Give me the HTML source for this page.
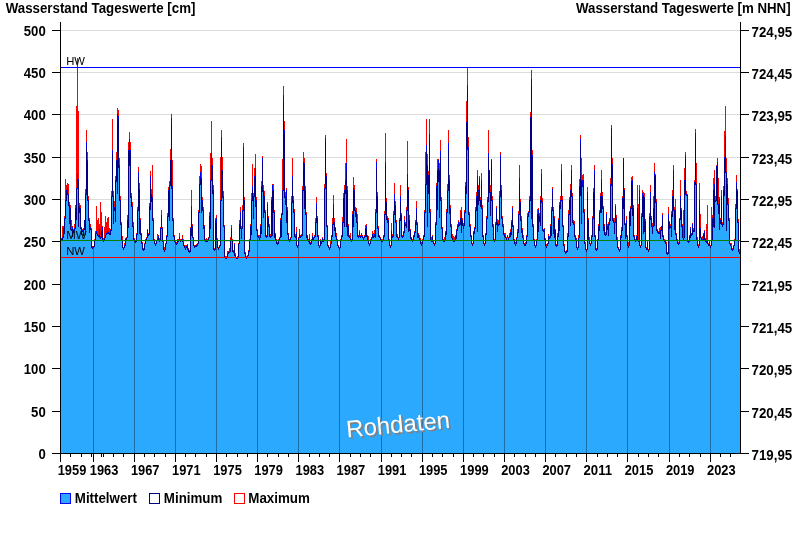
<!DOCTYPE html>
<html lang="de"><head><meta charset="utf-8"><title>Wasserstand Tageswerte</title>
<style>
html,body{margin:0;padding:0;background:#fff;}
svg{display:block;font-family:"Liberation Sans",Arial,sans-serif;}
.b{font-weight:bold;font-size:14px;fill:#000;}
.s{font-size:11.4px;fill:#000;}
</style></head><body>
<svg width="800" height="550" viewBox="0 0 800 550">
<rect width="800" height="550" fill="#fff"/>
<path d="M61,411.5H740M61,368.5H740M61,326.5H740M61,284.5H740M61,241.5H740M61,199.5H740M61,157.5H740M61,114.5H740M61,72.5H740M61,30.5H740" stroke="#dcdcdc" stroke-width="1" fill="none" shape-rendering="crispEdges"/>
<g shape-rendering="crispEdges" fill="none" stroke-width="1">
<path d="M60,453V239H61V239H62V237H63V228H64V218H65V200H66V190H67V187H68V194H69V205H70V208H71V229H72V227H73V230H74V228H75V208H76V188H77V173H78V179H79V206H80V208H81V228H82V230H83V229H84V220H85V194H86V142H87V160H88V200H89V220H90V227H91V229H92V247H93V246H94V240H95V233H96V231H97V234H98V235H99V229H100V237H101V231H102V227H103V240H104V238H105V235H106V233H107V231H108V232H109V233H110V230H111V196H112V150H113V196H114V207H115V180H116V160H117V114H118V116H119V165H120V200H121V224H122V240H123V248H124V245H125V239H126V238H127V220H128V150H129V139H130V150H131V196H132V206H133V226H134V239H135V241H136V234H137V210H138V172H139V189H140V220H141V234H142V243H143V249H144V244H145V240H146V238H147V230H148V234H149V206H150V176H151V194H152V197H153V220H154V240H155V244H156V241H157V239H158V236H159V240H160V228H161V215H162V228H163V242H164V250H165V244H166V236H167V216H168V190H169V185H170V160H171V118H172V186H173V220H174V236H175V242H176V243H177V241H178V240H179V237H180V240H181V239H182V239H183V242H184V246H185V248H186V246H187V245H188V249H189V251H190V228H191V206H192V226H193V238H194V246H195V245H196V245H197V244H198V212H199V184H200V172H201V178H202V200H203V210H204V226H205V240H206V240H207V240H208V238H209V216H210V180H211V153H212V165H213V190H214V249H215V220H216V218H217V240H218V248H219V246H220V200H221V137H222V170H223V196H224V226H225V257H226V257H227V253H228V252H229V251H230V240H231V228H232V240H233V251H234V244H235V255H236V258H237V257H238V244H239V224H240V212H241V228H242V210H243V147H244V200H245V253H246V257H247V256H248V251H249V240H250V226H251V200H252V186H253V196H254V176H255V168H256V200H257V230H258V236H259V238H260V226H261V186H262V158H263V190H264V196H265V212H266V236H267V204H268V218H269V226H270V236H271V200H272V185H273V190H274V212H275V234H276V240H277V243H278V240H279V238H280V220H281V214H282V190H283V95H284V130H285V196H286V190H287V210H288V234H289V240H290V238H291V202H292V176H293V200H294V212H295V236H296V232H297V246H298V238H299V234H300V236H301V235H302V190H303V162H304V163H305V190H306V214H307V236H308V240H309V238H310V243H311V240H312V236H313V238H314V236H315V222H316V203H317V218H318V236H319V246H320V240H321V242H322V238H323V240H324V188H325V138H326V176H327V226H328V246H329V248H330V244H331V236H332V224H333V204H334V222H335V228H336V236H337V240H338V246H339V248H340V240H341V236H342V222H343V198H344V190H345V180H346V163H347V190H348V226H349V236H350V238H351V240H352V214H353V188H354V190H355V210H356V212H357V222H358V236H359V232H360V236H361V234H362V236H363V238H364V236H365V228H366V226H367V236H368V240H369V244H370V240H371V238H372V234H373V236H374V234H375V212H376V162H377V196H378V228H379V236H380V238H381V240H382V240H383V236H384V214H385V162H386V202H387V218H388V220H389V240H390V246H391V230H392V236H393V214H394V194H395V205H396V222H397V236H398V238H399V220H400V196H401V215H402V236H403V232H404V220H405V224H406V210H407V174H408V190H409V220H410V230H411V238H412V240H413V236H414V232H415V222H416V208H417V224H418V234H419V238H420V240H421V244H422V240H423V236H424V212H425V184H426V145H427V165H428V175H429V134H430V212H431V240H432V236H433V242H434V244H435V224H436V186H437V170H438V160H439V170H440V151H441V200H442V228H443V240H444V240H445V232H446V212H447V190H448V143H449V180H450V208H451V226H452V238H453V240H454V240H455V236H456V230H457V226H458V222H459V224H460V218H461V212H462V220H463V225H464V212H465V186H466V122H467V85H468V147H469V214H470V226H471V236H472V244H473V232H474V228H475V210H476V196H477V176H478V190H479V178H480V200H481V180H482V208H483V236H484V244H485V234H486V218H487V200H488V153H489V170H490V192H491V160H492V200H493V226H494V240H495V224H496V208H497V222H498V224H499V196H500V155H501V190H502V218H503V226H504V234H505V236H506V238H507V236H508V238H509V236H510V232H511V222H512V208H513V226H514V240H515V244H516V238H517V232H518V214H519V178H520V202H521V220H522V230H523V238H524V244H525V244H526V236H527V216H528V212H529V200H530V117H531V79H532V155H533V226H534V240H535V246H536V240H537V214H538V210H539V216H540V200H541V174H542V202H543V230H544V229H545V239H546V246H547V244H548V236H549V237H550V226H551V210H552V189H553V210H554V218H555V230H556V245H557V236H558V220H559V205H560V200H561V170H562V200H563V226H564V246H565V252H566V251H567V236H568V214H569V200H570V190H571V170H572V196H573V222H574V224H575V236H576V239H577V248H578V238H579V186H580V139H581V180H582V180H583V180H584V212H585V244H586V250H587V192H588V220H589V240H590V244H591V236H592V218H593V192H594V170H595V236H596V249H597V240H598V226H599V212H600V196H601V179H602V196H603V208H604V226H605V234H606V214H607V226H608V224H609V220H610V184H611V128H612V164H613V220H614V222H615V206H616V218H617V240H618V248H619V250H620V236H621V230H622V198H623V158H624V190H625V224H626V220H627V236H628V246H629V212H630V208H631V181H632V180H633V208H634V236H635V240H636V236H637V208H638V240H639V190H640V246H641V216H642V193H643V195H644V197H645V221H646V248H647V242H648V250H649V216H650V192H651V218H652V226H653V208H654V172H655V175H656V202H657V230H658V232H659V232H660V230H661V226H662V215H663V236H664V240H665V241H666V244H667V253H668V214H669V222H670V226H671V214H672V196H673V170H674V210H675V210H676V234H677V240H678V243H679V219H680V196H681V210H682V226H683V238H684V180H685V155H686V194H687V195H688V241H689V236H690V228H691V234H692V224H693V230H694V182H695V133H696V184H697V240H698V246H699V200H700V228H701V238H702V239H703V234H704V231H705V239H706V241H707V240H708V244H709V242H710V246H711V240H712V218H713V190H714V184H715V200H716V166H717V162H718V204H719V199H720V220H721V196H722V224H723V190H724V157H725V136H726V172H727V184H728V204H729V220H730V244H731V246H732V249H733V246H734V240H735V208H736V182H737V191H738V222H739V252H740V453Z" fill="#2aa9ff" stroke="none"/>
<path d="M60.5,238V239M61.5,238V239M62.5,226V237M63.5,226V228M64.5,216V218M65.5,179V200M66.5,185V190M67.5,183V187M68.5,184V194M69.5,202V205M70.5,205V208M71.5,220V229M72.5,226V227M73.5,229V230M74.5,224V228M75.5,205V208M76.5,106V188M77.5,58V173M78.5,111V179M79.5,203V206M80.5,205V208M81.5,227V228M82.5,229V230M83.5,228V229M85.5,189V194M86.5,130V142M87.5,152V160M88.5,196V200M89.5,218V220M90.5,224V227M91.5,228V229M92.5,246V247M94.5,239V240M95.5,231V233M96.5,206V231M97.5,220V234M98.5,218V235M99.5,224V229M100.5,202V237M101.5,212V231M102.5,226V227M103.5,238V240M104.5,227V238M105.5,216V235M106.5,222V233M107.5,218V231M108.5,217V232M109.5,228V233M110.5,229V230M111.5,191V196M112.5,119V150M113.5,191V196M114.5,201V207M115.5,176V180M116.5,152V160M117.5,108V114M118.5,110V116M119.5,158V165M120.5,196V200M121.5,222V224M122.5,236V240M123.5,247V248M124.5,243V245M125.5,238V239M126.5,237V238M127.5,215V220M128.5,142V150M129.5,132V139M130.5,142V150M131.5,193V196M132.5,202V206M133.5,222V226M134.5,238V239M135.5,240V241M136.5,233V234M137.5,207V210M138.5,167V172M139.5,183V189M140.5,218V220M141.5,233V234M142.5,242V243M143.5,248V249M144.5,243V244M145.5,239V240M146.5,237V238M147.5,229V230M148.5,233V234M149.5,203V206M150.5,171V176M151.5,189V194M152.5,165V197M153.5,218V220M154.5,239V240M155.5,243V244M156.5,240V241M157.5,234V239M158.5,235V236M159.5,238V240M160.5,227V228M161.5,210V215M162.5,227V228M163.5,241V242M164.5,247V250M165.5,243V244M166.5,235V236M167.5,213V216M168.5,187V190M169.5,181V185M170.5,149V160M171.5,114V118M172.5,160V186M173.5,218V220M174.5,235V236M175.5,241V242M176.5,242V243M177.5,239V241M178.5,239V240M179.5,233V237M180.5,239V240M182.5,235V239M183.5,239V242M184.5,245V246M185.5,245V248M186.5,245V246M187.5,244V245M188.5,248V249M189.5,250V251M190.5,227V228M191.5,190V206M192.5,224V226M193.5,237V238M194.5,245V246M196.5,244V245M197.5,243V244M198.5,210V212M199.5,176V184M200.5,164V172M201.5,166V178M202.5,197V200M203.5,207V210M204.5,225V226M205.5,239V240M206.5,238V240M207.5,239V240M208.5,237V238M209.5,212V216M210.5,153V180M211.5,121V153M212.5,158V165M213.5,185V190M214.5,248V249M215.5,218V220M216.5,215V218M217.5,238V240M218.5,247V248M219.5,245V246M220.5,157V200M221.5,130V137M222.5,157V170M223.5,191V196M224.5,225V226M225.5,256V257M226.5,256V257M227.5,251V253M228.5,251V252M229.5,248V251M230.5,237V240M231.5,225V228M232.5,239V240M233.5,250V251M234.5,243V244M235.5,253V255M236.5,257V258M237.5,256V257M238.5,243V244M239.5,220V224M240.5,207V212M241.5,226V228M242.5,205V210M243.5,143V147M244.5,197V200M245.5,252V253M246.5,256V257M247.5,255V256M248.5,250V251M249.5,239V240M250.5,224V226M251.5,193V200M252.5,164V186M253.5,193V196M254.5,168V176M255.5,154V168M256.5,197V200M257.5,229V230M258.5,235V236M259.5,235V238M260.5,224V226M261.5,181V186M262.5,156V158M263.5,185V190M264.5,191V196M265.5,210V212M266.5,235V236M267.5,202V204M268.5,216V218M269.5,224V226M270.5,234V236M271.5,197V200M272.5,184V185M273.5,184V190M274.5,210V212M275.5,233V234M276.5,239V240M277.5,242V243M278.5,239V240M279.5,237V238M280.5,218V220M281.5,213V214M282.5,159V190M283.5,86V95M284.5,121V130M285.5,192V196M286.5,188V190M287.5,207V210M288.5,233V234M289.5,239V240M290.5,237V238M291.5,196V202M292.5,158V176M293.5,196V200M294.5,209V212M295.5,234V236M296.5,227V232M297.5,245V246M298.5,237V238M299.5,229V234M300.5,235V236M301.5,234V235M302.5,186V190M303.5,152V162M304.5,158V163M305.5,186V190M306.5,212V214M307.5,235V236M308.5,239V240M309.5,234V238M310.5,242V243M311.5,239V240M312.5,233V236M313.5,237V238M314.5,235V236M315.5,218V222M316.5,197V203M317.5,216V218M318.5,235V236M319.5,245V246M320.5,239V240M321.5,241V242M322.5,237V238M323.5,239V240M324.5,184V188M325.5,135V138M326.5,173V176M327.5,225V226M328.5,245V246M329.5,247V248M330.5,240V244M331.5,235V236M332.5,218V224M333.5,195V204M334.5,218V222M335.5,227V228M336.5,233V236M337.5,239V240M338.5,245V246M339.5,247V248M340.5,239V240M341.5,235V236M342.5,217V222M343.5,193V198M344.5,185V190M345.5,163V180M346.5,139V163M347.5,186V190M348.5,224V226M349.5,235V236M350.5,233V238M351.5,239V240M352.5,211V214M353.5,177V188M354.5,185V190M355.5,207V210M356.5,208V212M357.5,214V222M358.5,235V236M359.5,230V232M360.5,235V236M361.5,233V234M362.5,235V236M363.5,237V238M364.5,235V236M365.5,225V228M366.5,224V226M367.5,235V236M368.5,236V240M369.5,243V244M370.5,239V240M371.5,237V238M372.5,231V234M373.5,233V236M374.5,230V234M375.5,209V212M376.5,159V162M377.5,192V196M378.5,226V228M379.5,235V236M380.5,237V238M381.5,239V240M382.5,239V240M383.5,235V236M384.5,211V214M385.5,133V162M386.5,198V202M387.5,216V218M388.5,218V220M389.5,239V240M390.5,245V246M391.5,223V230M392.5,234V236M393.5,211V214M394.5,183V194M395.5,201V205M396.5,220V222M397.5,234V236M398.5,237V238M399.5,218V220M400.5,185V196M401.5,213V215M402.5,235V236M403.5,231V232M404.5,216V220M405.5,222V224M406.5,207V210M407.5,141V174M408.5,187V190M409.5,215V220M410.5,229V230M411.5,237V238M412.5,239V240M413.5,235V236M414.5,231V232M415.5,220V222M416.5,201V208M417.5,222V224M418.5,233V234M419.5,235V238M420.5,238V240M421.5,242V244M422.5,239V240M423.5,235V236M424.5,210V212M425.5,152V184M426.5,119V145M427.5,154V165M428.5,171V175M429.5,119V134M430.5,209V212M431.5,237V240M432.5,235V236M433.5,241V242M434.5,243V244M435.5,222V224M436.5,183V186M437.5,159V170M438.5,159V160M439.5,163V170M440.5,140V151M441.5,197V200M442.5,227V228M443.5,239V240M444.5,237V240M445.5,231V232M446.5,209V212M447.5,184V190M448.5,130V143M449.5,175V180M450.5,205V208M451.5,224V226M452.5,234V238M453.5,236V240M454.5,237V240M455.5,235V236M456.5,229V230M457.5,224V226M458.5,220V222M459.5,222V224M460.5,210V218M461.5,207V212M462.5,218V220M463.5,223V225M464.5,210V212M465.5,182V186M466.5,101V122M467.5,67V85M468.5,137V147M469.5,212V214M470.5,224V226M471.5,235V236M472.5,243V244M473.5,231V232M474.5,227V228M475.5,207V210M476.5,192V196M477.5,170V176M478.5,185V190M479.5,176V178M480.5,197V200M481.5,173V180M482.5,205V208M483.5,235V236M484.5,243V244M485.5,233V234M486.5,216V218M487.5,197V200M488.5,130V153M490.5,185V192M491.5,159V160M492.5,196V200M493.5,224V226M494.5,239V240M495.5,222V224M496.5,206V208M497.5,219V222M498.5,220V224M499.5,191V196M500.5,152V155M501.5,185V190M502.5,216V218M503.5,224V226M504.5,233V234M505.5,233V236M506.5,237V238M507.5,235V236M508.5,237V238M509.5,233V236M510.5,229V232M511.5,220V222M512.5,206V208M513.5,225V226M514.5,239V240M515.5,242V244M516.5,237V238M517.5,229V232M518.5,211V214M519.5,165V178M520.5,199V202M521.5,216V220M522.5,228V230M523.5,235V238M524.5,243V244M525.5,242V244M526.5,235V236M527.5,213V216M528.5,211V212M529.5,196V200M530.5,112V117M531.5,70V79M532.5,150V155M533.5,224V226M534.5,239V240M535.5,245V246M536.5,239V240M537.5,209V214M538.5,208V210M539.5,213V216M540.5,196V200M541.5,169V174M542.5,198V202M543.5,229V230M544.5,228V229M545.5,238V239M546.5,244V246M547.5,243V244M548.5,234V236M549.5,236V237M550.5,224V226M551.5,207V210M552.5,187V189M553.5,207V210M554.5,216V218M555.5,229V230M556.5,244V245M557.5,233V236M558.5,218V220M559.5,202V205M560.5,196V200M561.5,164V170M562.5,196V200M563.5,225V226M564.5,244V246M565.5,251V252M566.5,250V251M567.5,233V236M568.5,210V214M569.5,197V200M570.5,184V190M571.5,165V170M572.5,193V196M573.5,220V222M574.5,221V224M575.5,235V236M576.5,238V239M577.5,247V248M578.5,235V238M579.5,179V186M580.5,135V139M581.5,158V180M582.5,175V180M583.5,174V180M584.5,209V212M585.5,242V244M586.5,249V250M587.5,187V192M588.5,218V220M589.5,237V240M590.5,243V244M591.5,235V236M592.5,216V218M593.5,188V192M594.5,165V170M595.5,235V236M596.5,248V249M597.5,239V240M598.5,224V226M599.5,210V212M600.5,193V196M601.5,170V179M602.5,192V196M603.5,206V208M604.5,224V226M605.5,232V234M606.5,212V214M607.5,224V226M608.5,222V224M609.5,218V220M610.5,178V184M611.5,125V128M612.5,158V164M613.5,218V220M614.5,218V222M615.5,204V206M616.5,215V218M617.5,237V240M618.5,247V248M619.5,249V250M620.5,235V236M621.5,227V230M622.5,196V198M624.5,188V190M625.5,223V224M626.5,216V220M627.5,235V236M628.5,242V246M629.5,211V212M630.5,206V208M631.5,177V181M632.5,176V180M633.5,205V208M634.5,235V236M635.5,239V240M636.5,235V236M637.5,185V208M638.5,204V240M639.5,185V190M640.5,245V246M641.5,213V216M642.5,190V193M643.5,192V195M644.5,193V197M645.5,219V221M646.5,247V248M647.5,241V242M648.5,249V250M649.5,213V216M650.5,185V192M651.5,216V218M652.5,223V226M653.5,196V208M654.5,163V172M655.5,174V175M656.5,199V202M657.5,229V230M658.5,231V232M659.5,228V232M660.5,227V230M662.5,213V215M663.5,235V236M664.5,239V240M665.5,240V241M666.5,242V244M667.5,252V253M668.5,207V214M669.5,221V222M670.5,224V226M671.5,211V214M672.5,190V196M673.5,165V170M674.5,207V210M675.5,199V210M676.5,233V234M677.5,239V240M678.5,242V243M679.5,218V219M680.5,180V196M681.5,208V210M682.5,224V226M683.5,210V238M684.5,168V180M685.5,152V155M686.5,191V194M687.5,194V195M688.5,240V241M689.5,235V236M690.5,227V228M691.5,233V234M692.5,223V224M693.5,228V230M694.5,180V182M695.5,129V133M696.5,163V184M697.5,237V240M698.5,244V246M699.5,183V200M700.5,214V228M701.5,237V238M702.5,236V239M703.5,233V234M704.5,230V231M705.5,238V239M706.5,224V241M707.5,205V240M708.5,243V244M709.5,241V242M710.5,245V246M711.5,207V240M712.5,215V218M713.5,178V190M714.5,170V184M715.5,196V200M716.5,165V166M717.5,158V162M718.5,178V204M719.5,197V199M720.5,218V220M721.5,190V196M722.5,222V224M723.5,186V190M724.5,131V157M725.5,106V136M726.5,158V172M727.5,178V184M728.5,198V204M729.5,218V220M730.5,243V244M731.5,243V246M732.5,248V249M733.5,245V246M734.5,239V240M735.5,204V208M736.5,175V182M737.5,189V191M738.5,219V222M739.5,249V252" stroke="#ff0000"/>
<path d="M60.5,239V240M61.5,239V240M62.5,237V238M63.5,228V229M64.5,218V219M65.5,200V201M66.5,190V191M67.5,187V193M68.5,194V195M69.5,205V206M70.5,208V209M71.5,229V230M72.5,227V229M73.5,230V231M74.5,228V229M75.5,208V209M76.5,188V189M77.5,173V179M78.5,179V181M79.5,206V207M80.5,208V209M81.5,228V229M82.5,230V231M83.5,229V230M84.5,220V221M85.5,194V195M86.5,142V148M87.5,160V162M88.5,200V201M89.5,220V221M90.5,227V228M91.5,229V230M92.5,247V248M93.5,246V247M95.5,233V234M96.5,231V233M98.5,235V236M99.5,229V232M100.5,237V238M102.5,227V230M106.5,233V234M107.5,231V233M108.5,232V233M109.5,233V234M110.5,230V231M111.5,196V197M112.5,150V154M113.5,196V197M114.5,207V208M115.5,180V182M116.5,160V161M117.5,114V122M118.5,116V119M119.5,165V168M120.5,200V201M121.5,224V225M124.5,245V246M125.5,239V240M127.5,220V221M128.5,150V151M129.5,139V145M130.5,150V153M131.5,196V198M132.5,206V207M133.5,226V227M134.5,239V240M135.5,241V242M136.5,234V235M137.5,210V211M138.5,172V177M139.5,189V190M140.5,220V221M141.5,234V235M142.5,243V244M143.5,249V250M145.5,240V241M147.5,230V232M148.5,234V235M149.5,206V207M150.5,176V184M151.5,194V196M152.5,197V198M153.5,220V221M157.5,239V240M158.5,236V237M160.5,228V229M161.5,215V219M162.5,228V229M166.5,236V237M167.5,216V217M168.5,190V191M169.5,185V186M170.5,160V161M171.5,118V124M172.5,186V188M173.5,220V221M174.5,236V237M176.5,243V244M179.5,237V238M181.5,239V240M182.5,239V240M186.5,246V247M187.5,245V246M188.5,249V250M189.5,251V252M190.5,228V229M191.5,206V210M192.5,226V227M195.5,245V246M196.5,245V246M198.5,212V213M199.5,184V185M200.5,172V179M201.5,178V179M202.5,200V202M203.5,210V211M204.5,226V227M206.5,240V241M209.5,216V217M210.5,180V181M211.5,153V161M212.5,165V168M213.5,190V191M214.5,249V250M215.5,220V221M216.5,218V223M220.5,200V201M221.5,137V141M222.5,170V171M223.5,196V198M224.5,226V227M225.5,257V258M226.5,257V258M227.5,253V254M229.5,251V252M231.5,228V231M233.5,251V252M234.5,244V245M235.5,255V256M237.5,257V258M239.5,224V225M240.5,212V218M241.5,228V229M242.5,210V211M243.5,147V155M244.5,200V201M245.5,253V254M246.5,257V258M248.5,251V252M250.5,226V227M251.5,200V201M252.5,186V190M253.5,196V197M254.5,176V178M255.5,168V172M256.5,200V202M257.5,230V231M258.5,236V237M260.5,226V227M261.5,186V187M262.5,158V162M263.5,190V192M264.5,196V197M265.5,212V213M266.5,236V237M267.5,204V209M268.5,218V219M269.5,226V227M270.5,236V237M271.5,200V202M272.5,185V191M273.5,190V191M274.5,212V213M275.5,234V235M277.5,243V244M280.5,220V221M281.5,214V215M282.5,190V191M283.5,95V102M284.5,130V133M285.5,196V198M286.5,190V198M287.5,210V211M288.5,234V235M291.5,202V203M292.5,176V180M293.5,200V201M294.5,212V213M295.5,236V237M296.5,232V234M299.5,234V235M300.5,236V237M301.5,235V236M302.5,190V191M303.5,162V170M304.5,163V164M305.5,190V192M306.5,214V215M307.5,236V237M309.5,238V239M310.5,243V244M312.5,236V237M314.5,236V237M315.5,222V223M316.5,203V209M317.5,218V219M318.5,236V237M320.5,240V241M322.5,238V239M324.5,188V189M325.5,138V142M326.5,176V178M327.5,226V227M331.5,236V237M332.5,224V225M333.5,204V210M334.5,222V223M335.5,228V229M336.5,236V237M341.5,236V237M342.5,222V223M343.5,198V199M344.5,190V191M345.5,180V182M346.5,163V171M347.5,190V191M348.5,226V227M349.5,236V237M352.5,214V215M353.5,188V192M354.5,190V191M355.5,210V211M356.5,212V213M357.5,222V223M358.5,236V237M359.5,232V234M360.5,236V237M361.5,234V235M362.5,236V237M364.5,236V237M365.5,228V229M366.5,226V229M367.5,236V237M372.5,234V235M373.5,236V237M374.5,234V235M375.5,212V213M376.5,162V169M377.5,196V197M378.5,228V229M379.5,236V237M383.5,236V237M384.5,214V215M385.5,162V166M386.5,202V203M387.5,218V219M388.5,220V221M391.5,230V232M392.5,236V237M393.5,214V215M394.5,194V201M395.5,205V206M396.5,222V223M397.5,236V237M399.5,220V221M400.5,196V202M401.5,215V216M402.5,236V237M403.5,232V233M404.5,220V223M405.5,224V225M406.5,210V211M407.5,174V180M408.5,190V191M409.5,220V221M410.5,230V231M413.5,236V237M414.5,232V233M415.5,222V223M416.5,208V213M417.5,224V225M418.5,234V235M423.5,236V237M424.5,212V213M425.5,184V185M426.5,145V151M427.5,165V167M428.5,175V177M429.5,134V140M430.5,212V213M432.5,236V237M435.5,224V225M436.5,186V188M437.5,170V171M438.5,160V168M439.5,170V172M440.5,151V157M441.5,200V201M442.5,228V229M445.5,232V233M446.5,212V213M447.5,190V191M448.5,143V150M449.5,180V181M450.5,208V209M451.5,226V227M455.5,236V237M456.5,230V231M457.5,226V227M458.5,222V225M459.5,224V225M460.5,218V219M461.5,212V218M462.5,220V221M463.5,225V226M464.5,212V213M465.5,186V187M466.5,122V123M467.5,85V91M468.5,147V150M469.5,214V215M470.5,226V227M471.5,236V237M473.5,232V233M474.5,228V229M475.5,210V211M476.5,196V198M477.5,176V183M478.5,190V192M479.5,178V182M480.5,200V201M481.5,180V184M482.5,208V209M483.5,236V237M485.5,234V235M486.5,218V219M487.5,200V202M488.5,153V157M489.5,170V172M490.5,192V193M491.5,160V164M492.5,200V201M493.5,226V227M495.5,224V225M496.5,208V212M497.5,222V223M498.5,224V225M499.5,196V197M500.5,155V161M501.5,190V191M502.5,218V219M503.5,226V227M504.5,234V235M505.5,236V237M507.5,236V237M509.5,236V237M510.5,232V233M511.5,222V223M512.5,208V213M513.5,226V227M517.5,232V233M518.5,214V215M519.5,178V185M520.5,202V203M521.5,220V221M522.5,230V231M526.5,236V237M527.5,216V217M528.5,212V213M529.5,200V201M530.5,117V118M531.5,79V86M532.5,155V157M533.5,226V227M537.5,214V215M538.5,210V214M539.5,216V217M540.5,200V201M541.5,174V182M542.5,202V203M543.5,230V231M544.5,229V231M545.5,239V240M548.5,236V237M549.5,237V238M550.5,226V227M551.5,210V211M552.5,189V193M553.5,210V211M554.5,218V219M555.5,230V231M556.5,245V246M557.5,236V237M558.5,220V221M559.5,205V206M560.5,200V201M561.5,170V175M562.5,200V201M563.5,226V227M566.5,251V252M567.5,236V237M568.5,214V215M569.5,200V201M570.5,190V191M571.5,170V176M572.5,196V197M573.5,222V223M574.5,224V225M575.5,236V237M576.5,239V240M579.5,186V187M580.5,139V144M581.5,180V182M582.5,180V186M583.5,180V186M584.5,212V213M587.5,192V196M588.5,220V221M591.5,236V237M592.5,218V219M593.5,192V194M594.5,170V175M595.5,236V237M596.5,249V250M598.5,226V227M599.5,212V213M600.5,196V197M601.5,179V183M602.5,196V197M603.5,208V209M604.5,226V227M605.5,234V235M606.5,214V219M607.5,226V227M608.5,224V225M609.5,220V221M610.5,184V186M611.5,128V135M612.5,164V166M613.5,220V221M614.5,222V223M615.5,206V210M616.5,218V219M620.5,236V237M621.5,230V231M622.5,198V199M623.5,158V162M624.5,190V191M625.5,224V225M626.5,220V224M627.5,236V237M629.5,212V213M630.5,208V209M631.5,181V182M632.5,180V185M633.5,208V209M634.5,236V237M636.5,236V237M637.5,208V213M639.5,190V197M641.5,216V217M642.5,193V197M643.5,195V196M644.5,197V198M645.5,221V222M647.5,242V243M649.5,216V217M650.5,192V199M651.5,218V219M652.5,226V227M653.5,208V209M654.5,172V176M655.5,175V177M656.5,202V203M657.5,230V231M658.5,232V233M659.5,232V233M660.5,230V231M661.5,226V227M662.5,215V219M663.5,236V237M665.5,241V242M667.5,253V254M668.5,214V218M669.5,222V223M670.5,226V227M671.5,214V215M672.5,196V197M673.5,170V176M674.5,210V211M675.5,210V215M676.5,234V235M678.5,243V244M679.5,219V220M680.5,196V200M681.5,210V211M682.5,226V227M684.5,180V182M685.5,155V159M686.5,194V195M687.5,195V196M688.5,241V242M689.5,236V237M690.5,228V230M691.5,234V235M692.5,224V227M693.5,230V231M694.5,182V183M695.5,133V139M696.5,184V185M699.5,200V206M700.5,228V229M702.5,239V240M703.5,234V235M704.5,231V233M705.5,239V240M706.5,241V242M707.5,240V241M709.5,242V243M712.5,218V219M713.5,190V191M714.5,184V188M715.5,200V201M716.5,166V167M717.5,162V167M718.5,204V205M719.5,199V203M720.5,220V221M721.5,196V203M722.5,224V225M723.5,190V192M724.5,157V159M725.5,136V144M726.5,172V173M727.5,184V186M728.5,204V205M729.5,220V221M732.5,249V250M735.5,208V209M736.5,182V186M737.5,191V192M738.5,222V223" stroke="#0000ff"/>
<path d="M60.5,240V241M61.5,240V241M62.5,238V240M63.5,229V238M64.5,219V234M65.5,201V219M66.5,191V201M67.5,193V195M68.5,195V206M69.5,206V224M70.5,209V230M71.5,230V231M72.5,229V237M73.5,231V232M74.5,229V231M75.5,209V229M76.5,189V220M77.5,179V189M78.5,181V227M79.5,207V213M80.5,209V229M81.5,229V235M82.5,231V232M83.5,230V236M84.5,221V230M85.5,195V235M86.5,148V195M87.5,162V201M88.5,201V221M89.5,221V233M90.5,228V230M91.5,230V248M92.5,248V249M93.5,247V248M94.5,240V247M95.5,234V240M96.5,233V234M97.5,234V236M98.5,236V237M99.5,232V238M100.5,238V239M101.5,231V238M102.5,230V240M103.5,240V242M104.5,238V240M105.5,235V238M106.5,234V235M107.5,233V234M108.5,233V234M109.5,234V235M110.5,231V235M111.5,197V231M112.5,154V197M113.5,197V224M114.5,208V211M115.5,182V222M116.5,161V182M117.5,122V194M118.5,119V168M119.5,168V201M120.5,201V225M121.5,225V240M122.5,240V248M123.5,248V250M124.5,246V248M125.5,240V246M126.5,238V240M127.5,221V238M128.5,151V228M129.5,145V166M130.5,153V198M131.5,198V207M132.5,207V227M133.5,227V240M134.5,240V242M135.5,242V243M136.5,235V242M137.5,211V235M138.5,177V211M139.5,190V234M140.5,221V235M141.5,235V244M142.5,244V250M143.5,250V251M144.5,244V250M145.5,241V244M146.5,238V241M147.5,232V238M148.5,235V236M149.5,207V235M150.5,184V210M151.5,196V202M152.5,198V221M153.5,221V240M154.5,240V244M155.5,244V246M156.5,241V244M157.5,240V241M158.5,237V240M159.5,240V242M160.5,229V240M161.5,219V229M162.5,229V242M163.5,242V250M164.5,250V252M165.5,244V250M166.5,237V244M167.5,217V237M168.5,191V217M169.5,186V221M170.5,161V186M171.5,124V189M172.5,188V221M173.5,221V237M174.5,237V242M175.5,242V244M176.5,244V245M177.5,241V244M178.5,240V242M179.5,238V240M180.5,240V242M181.5,240V241M182.5,240V242M183.5,242V246M184.5,246V248M185.5,248V250M186.5,247V248M187.5,246V250M188.5,250V252M189.5,252V253M190.5,229V252M191.5,210V236M192.5,227V238M193.5,238V246M194.5,246V248M195.5,246V247M196.5,246V247M197.5,244V246M198.5,213V244M199.5,185V213M200.5,179V185M201.5,179V213M202.5,202V211M203.5,211V229M204.5,227V240M205.5,240V242M206.5,241V242M207.5,240V242M208.5,238V240M209.5,217V238M210.5,181V229M211.5,161V181M212.5,168V194M213.5,191V250M214.5,250V251M215.5,221V250M216.5,223V240M217.5,240V248M218.5,248V250M219.5,246V248M220.5,201V246M221.5,141V201M222.5,171V198M223.5,198V227M224.5,227V258M225.5,258V259M226.5,258V259M227.5,254V258M228.5,252V254M229.5,252V253M230.5,240V252M231.5,231V240M232.5,240V252M233.5,252V253M234.5,245V256M235.5,256V258M236.5,258V259M237.5,258V259M238.5,244V258M239.5,225V244M240.5,218V229M241.5,229V239M242.5,211V229M243.5,155V211M244.5,201V254M245.5,254V258M246.5,258V259M247.5,256V258M248.5,252V256M249.5,240V252M250.5,227V240M251.5,201V235M252.5,190V201M253.5,197V219M254.5,178V197M255.5,172V207M256.5,202V231M257.5,231V237M258.5,237V238M259.5,238V240M260.5,227V238M261.5,187V234M262.5,162V192M263.5,192V218M264.5,197V213M265.5,213V237M266.5,237V238M267.5,209V237M268.5,219V227M269.5,227V237M270.5,237V238M271.5,202V237M272.5,191V236M273.5,191V213M274.5,213V238M275.5,235V240M276.5,240V244M277.5,244V245M278.5,240V244M279.5,238V240M280.5,221V238M281.5,215V237M282.5,191V215M283.5,102V191M284.5,133V198M285.5,198V205M286.5,198V223M287.5,211V235M288.5,235V240M289.5,240V242M290.5,238V240M291.5,203V238M292.5,180V203M293.5,201V213M294.5,213V237M295.5,237V238M296.5,234V246M297.5,246V248M298.5,238V246M299.5,235V238M300.5,237V238M301.5,236V237M302.5,191V236M303.5,170V191M304.5,164V209M305.5,192V215M306.5,215V238M307.5,237V240M308.5,240V242M309.5,239V244M310.5,244V245M311.5,240V244M312.5,237V240M313.5,238V240M314.5,237V238M315.5,223V237M316.5,209V223M317.5,219V237M318.5,237V246M319.5,246V248M320.5,241V246M321.5,242V244M322.5,239V242M323.5,240V242M324.5,189V240M325.5,142V189M326.5,178V227M327.5,227V246M328.5,246V248M329.5,248V250M330.5,244V248M331.5,237V244M332.5,225V237M333.5,210V225M334.5,223V231M335.5,229V237M336.5,237V240M337.5,240V246M338.5,246V248M339.5,248V250M340.5,240V248M341.5,237V240M342.5,223V237M343.5,199V223M344.5,191V227M345.5,182V194M346.5,171V227M347.5,191V236M348.5,227V237M349.5,237V238M350.5,238V240M351.5,240V242M352.5,215V240M353.5,192V227M354.5,191V211M355.5,211V217M356.5,213V223M357.5,223V237M358.5,237V238M359.5,234V237M360.5,237V238M361.5,235V237M362.5,237V238M363.5,238V240M364.5,237V238M365.5,229V237M366.5,229V237M367.5,237V240M368.5,240V244M369.5,244V246M370.5,240V244M371.5,238V240M372.5,235V238M373.5,237V238M374.5,235V237M375.5,213V238M376.5,169V213M377.5,197V229M378.5,229V237M379.5,237V238M380.5,238V240M381.5,240V242M382.5,240V242M383.5,237V240M384.5,215V237M385.5,166V215M386.5,203V220M387.5,219V223M388.5,221V240M389.5,240V246M390.5,246V248M391.5,232V246M392.5,237V238M393.5,215V237M394.5,201V215M395.5,206V223M396.5,223V237M397.5,237V238M398.5,238V240M399.5,221V238M400.5,202V221M401.5,216V237M402.5,237V238M403.5,233V237M404.5,223V233M405.5,225V226M406.5,211V228M407.5,180V211M408.5,191V232M409.5,221V231M410.5,231V239M411.5,238V240M412.5,240V242M413.5,237V240M414.5,233V237M415.5,223V233M416.5,213V225M417.5,225V238M418.5,235V238M419.5,238V240M420.5,240V244M421.5,244V246M422.5,240V244M423.5,237V240M424.5,213V237M425.5,185V213M426.5,151V185M427.5,167V227M428.5,177V194M429.5,140V213M430.5,213V240M431.5,240V242M432.5,237V242M433.5,242V244M434.5,244V246M435.5,225V244M436.5,188V225M437.5,171V210M438.5,168V182M439.5,172V218M440.5,157V201M441.5,201V229M442.5,229V240M443.5,240V242M444.5,240V242M445.5,233V240M446.5,213V235M447.5,191V213M448.5,150V191M449.5,181V214M450.5,209V227M451.5,227V238M452.5,238V240M453.5,240V242M454.5,240V242M455.5,237V240M456.5,231V239M457.5,227V231M458.5,225V227M459.5,225V226M460.5,219V225M461.5,218V233M462.5,221V226M463.5,226V229M464.5,213V226M465.5,187V213M466.5,123V194M467.5,91V150M468.5,150V215M469.5,215V227M470.5,227V237M471.5,237V244M472.5,244V246M473.5,233V244M474.5,229V234M475.5,211V229M476.5,198V211M477.5,183V232M478.5,192V205M479.5,182V201M480.5,201V207M481.5,184V209M482.5,209V237M483.5,237V244M484.5,244V246M485.5,235V244M486.5,219V235M487.5,202V219M488.5,157V202M489.5,172V193M490.5,193V216M491.5,164V201M492.5,201V227M493.5,227V240M494.5,240V242M495.5,225V240M496.5,212V225M497.5,223V232M498.5,225V226M499.5,197V225M500.5,161V197M501.5,191V219M502.5,219V227M503.5,227V235M504.5,235V237M505.5,237V238M506.5,238V240M507.5,237V238M508.5,238V240M509.5,237V238M510.5,233V237M511.5,223V235M512.5,213V227M513.5,227V240M514.5,240V244M515.5,244V246M516.5,238V244M517.5,233V238M518.5,215V233M519.5,185V215M520.5,203V221M521.5,221V233M522.5,231V238M523.5,238V244M524.5,244V246M525.5,244V246M526.5,237V244M527.5,217V237M528.5,213V217M529.5,201V213M530.5,118V201M531.5,86V219M532.5,157V227M533.5,227V240M534.5,240V246M535.5,246V248M536.5,240V246M537.5,215V240M538.5,214V232M539.5,217V222M540.5,201V226M541.5,182V203M542.5,203V231M543.5,231V232M544.5,231V240M545.5,240V246M546.5,246V248M547.5,244V246M548.5,237V244M549.5,238V239M550.5,227V238M551.5,211V236M552.5,193V211M553.5,211V234M554.5,219V238M555.5,231V246M556.5,246V247M557.5,237V246M558.5,221V237M559.5,206V231M560.5,201V209M561.5,175V201M562.5,201V227M563.5,227V246M564.5,246V252M565.5,252V254M566.5,252V253M567.5,237V252M568.5,215V237M569.5,201V215M570.5,191V226M571.5,176V197M572.5,197V223M573.5,223V225M574.5,225V237M575.5,237V240M576.5,240V248M577.5,248V250M578.5,238V248M579.5,187V238M580.5,144V196M581.5,182V224M582.5,186V187M583.5,186V213M584.5,213V244M585.5,244V250M586.5,250V252M587.5,196V250M588.5,221V240M589.5,240V244M590.5,244V246M591.5,237V244M592.5,219V237M593.5,194V219M594.5,175V237M595.5,237V250M596.5,250V251M597.5,240V250M598.5,227V240M599.5,213V231M600.5,197V213M601.5,183V213M602.5,197V209M603.5,209V231M604.5,227V235M605.5,235V236M606.5,219V235M607.5,227V230M608.5,225V236M609.5,221V225M610.5,186V221M611.5,135V186M612.5,166V221M613.5,221V223M614.5,223V234M615.5,210V223M616.5,219V240M617.5,240V248M618.5,248V250M619.5,250V252M620.5,237V250M621.5,231V238M622.5,199V231M623.5,162V209M624.5,191V225M625.5,225V239M626.5,224V237M627.5,237V246M628.5,246V248M629.5,213V246M630.5,209V226M631.5,182V209M632.5,185V216M633.5,209V237M634.5,237V240M635.5,240V242M636.5,237V240M637.5,213V240M638.5,240V242M639.5,197V246M640.5,246V248M641.5,217V246M642.5,197V217M643.5,196V234M644.5,198V232M645.5,222V248M646.5,248V250M647.5,243V250M648.5,250V252M649.5,217V250M650.5,199V220M651.5,219V227M652.5,227V234M653.5,209V227M654.5,176V226M655.5,177V203M656.5,203V231M657.5,231V233M658.5,233V234M659.5,233V234M660.5,231V239M661.5,227V231M662.5,219V237M663.5,237V240M664.5,240V242M665.5,242V244M666.5,244V254M667.5,254V255M668.5,218V254M669.5,223V229M670.5,227V228M671.5,215V237M672.5,197V217M673.5,176V211M674.5,211V230M675.5,215V235M676.5,235V240M677.5,240V244M678.5,244V245M679.5,220V244M680.5,200V220M681.5,211V227M682.5,227V238M683.5,238V240M684.5,182V238M685.5,159V195M686.5,195V196M687.5,196V242M688.5,242V243M689.5,237V242M690.5,230V238M691.5,235V236M692.5,227V235M693.5,231V232M694.5,183V232M695.5,139V185M696.5,185V240M697.5,240V246M698.5,246V248M699.5,206V246M700.5,229V238M701.5,238V240M702.5,240V241M703.5,235V240M704.5,233V240M705.5,240V242M706.5,242V243M707.5,241V244M708.5,244V246M709.5,243V246M710.5,246V248M711.5,240V246M712.5,219V240M713.5,191V227M714.5,188V228M715.5,201V202M716.5,167V201M717.5,167V205M718.5,205V214M719.5,203V230M720.5,221V224M721.5,203V225M722.5,225V227M723.5,192V225M724.5,159V196M725.5,144V173M726.5,173V231M727.5,186V205M728.5,205V221M729.5,221V244M730.5,244V246M731.5,246V250M732.5,250V251M733.5,246V250M734.5,240V246M735.5,209V240M736.5,186V209M737.5,192V223M738.5,223V252M739.5,252V254" stroke="#000080"/>
<path d="M93.5,248V453M134.5,242V453M175.5,244V453M216.5,240V453M257.5,237V453M298.5,246V453M339.5,250V453M381.5,242V453M422.5,244V453M463.5,229V453M504.5,237V453M545.5,246V453M586.5,252V453M627.5,246V453M669.5,229V453M710.5,248V453" stroke="#1a6ea8"/>
<path d="M61,67.5H740" stroke="#0000ff" stroke-width="1.4"/>
<path d="M61,240.5H740" stroke="#008000" stroke-width="1.2"/>
<path d="M61,257.5H740" stroke="#ff0000" stroke-width="1.2"/>
</g>
<text class="s" x="66.2" y="65.3" textLength="18.8" lengthAdjust="spacingAndGlyphs">HW</text>
<text class="s" x="66.2" y="238.5" textLength="20.2" lengthAdjust="spacingAndGlyphs">MW</text>
<text class="s" x="66.2" y="255.2" textLength="18.8" lengthAdjust="spacingAndGlyphs">NW</text>
<path d="M60.5,22V453M740.5,22V453M52,453.5H741M52,453.5H60M741,453.5H749M52,411.5H60M741,411.5H749M52,368.5H60M741,368.5H749M52,326.5H60M741,326.5H749M52,284.5H60M741,284.5H749M52,241.5H60M741,241.5H749M52,199.5H60M741,199.5H749M52,157.5H60M741,157.5H749M52,114.5H60M741,114.5H749M52,72.5H60M741,72.5H749M52,30.5H60M741,30.5H749M93.5,453V462M103.5,453V457M113.5,453V457M123.5,453V457M134.5,453V462M144.5,453V457M154.5,453V457M165.5,453V457M175.5,453V462M185.5,453V457M195.5,453V457M206.5,453V457M216.5,453V462M226.5,453V457M237.5,453V457M247.5,453V457M257.5,453V462M267.5,453V457M278.5,453V457M288.5,453V457M298.5,453V462M309.5,453V457M319.5,453V457M329.5,453V457M339.5,453V462M350.5,453V457M360.5,453V457M370.5,453V457M381.5,453V462M391.5,453V457M401.5,453V457M411.5,453V457M422.5,453V462M432.5,453V457M442.5,453V457M453.5,453V457M463.5,453V462M473.5,453V457M483.5,453V457M494.5,453V457M504.5,453V462M514.5,453V457M525.5,453V457M535.5,453V457M545.5,453V462M555.5,453V457M566.5,453V457M576.5,453V457M586.5,453V462M597.5,453V457M607.5,453V457M617.5,453V457M627.5,453V462M638.5,453V457M648.5,453V457M658.5,453V457M669.5,453V462M679.5,453V457M689.5,453V457M700.5,453V457M710.5,453V462M720.5,453V457M730.5,453V457M70.5,453V457M81.5,453V457M91.5,453V457M101.5,453V457M60.5,453V462" stroke="#000" stroke-width="1.4" fill="none" shape-rendering="crispEdges"/>
<text class="b" x="45.7" y="459.2" text-anchor="end" textLength="7.3" lengthAdjust="spacingAndGlyphs">0</text>
<text class="b" x="751.6" y="460.1" textLength="40.6" lengthAdjust="spacingAndGlyphs">719,95</text>
<text class="b" x="45.7" y="417.2" text-anchor="end" textLength="14.6" lengthAdjust="spacingAndGlyphs">50</text>
<text class="b" x="751.6" y="418.1" textLength="40.6" lengthAdjust="spacingAndGlyphs">720,45</text>
<text class="b" x="45.7" y="374.2" text-anchor="end" textLength="21.9" lengthAdjust="spacingAndGlyphs">100</text>
<text class="b" x="751.6" y="375.1" textLength="40.6" lengthAdjust="spacingAndGlyphs">720,95</text>
<text class="b" x="45.7" y="332.2" text-anchor="end" textLength="21.9" lengthAdjust="spacingAndGlyphs">150</text>
<text class="b" x="751.6" y="333.1" textLength="40.6" lengthAdjust="spacingAndGlyphs">721,45</text>
<text class="b" x="45.7" y="290.2" text-anchor="end" textLength="21.9" lengthAdjust="spacingAndGlyphs">200</text>
<text class="b" x="751.6" y="291.1" textLength="40.6" lengthAdjust="spacingAndGlyphs">721,95</text>
<text class="b" x="45.7" y="247.2" text-anchor="end" textLength="21.9" lengthAdjust="spacingAndGlyphs">250</text>
<text class="b" x="751.6" y="248.1" textLength="40.6" lengthAdjust="spacingAndGlyphs">722,45</text>
<text class="b" x="45.7" y="205.2" text-anchor="end" textLength="21.9" lengthAdjust="spacingAndGlyphs">300</text>
<text class="b" x="751.6" y="206.1" textLength="40.6" lengthAdjust="spacingAndGlyphs">722,95</text>
<text class="b" x="45.7" y="163.2" text-anchor="end" textLength="21.9" lengthAdjust="spacingAndGlyphs">350</text>
<text class="b" x="751.6" y="164.1" textLength="40.6" lengthAdjust="spacingAndGlyphs">723,45</text>
<text class="b" x="45.7" y="120.2" text-anchor="end" textLength="21.9" lengthAdjust="spacingAndGlyphs">400</text>
<text class="b" x="751.6" y="121.1" textLength="40.6" lengthAdjust="spacingAndGlyphs">723,95</text>
<text class="b" x="45.7" y="78.2" text-anchor="end" textLength="21.9" lengthAdjust="spacingAndGlyphs">450</text>
<text class="b" x="751.6" y="79.1" textLength="40.6" lengthAdjust="spacingAndGlyphs">724,45</text>
<text class="b" x="45.7" y="36.2" text-anchor="end" textLength="21.9" lengthAdjust="spacingAndGlyphs">500</text>
<text class="b" x="751.6" y="37.1" textLength="40.6" lengthAdjust="spacingAndGlyphs">724,95</text>
<text class="b" x="57.7" y="474.7" textLength="28.6" lengthAdjust="spacingAndGlyphs">1959</text>
<text class="b" x="89.8" y="474.7" textLength="28.6" lengthAdjust="spacingAndGlyphs">1963</text>
<text class="b" x="130.9" y="474.7" textLength="28.6" lengthAdjust="spacingAndGlyphs">1967</text>
<text class="b" x="172.0" y="474.7" textLength="28.6" lengthAdjust="spacingAndGlyphs">1971</text>
<text class="b" x="213.2" y="474.7" textLength="28.6" lengthAdjust="spacingAndGlyphs">1975</text>
<text class="b" x="254.3" y="474.7" textLength="28.6" lengthAdjust="spacingAndGlyphs">1979</text>
<text class="b" x="295.5" y="474.7" textLength="28.6" lengthAdjust="spacingAndGlyphs">1983</text>
<text class="b" x="336.6" y="474.7" textLength="28.6" lengthAdjust="spacingAndGlyphs">1987</text>
<text class="b" x="377.8" y="474.7" textLength="28.6" lengthAdjust="spacingAndGlyphs">1991</text>
<text class="b" x="418.9" y="474.7" textLength="28.6" lengthAdjust="spacingAndGlyphs">1995</text>
<text class="b" x="460.1" y="474.7" textLength="28.6" lengthAdjust="spacingAndGlyphs">1999</text>
<text class="b" x="501.2" y="474.7" textLength="28.6" lengthAdjust="spacingAndGlyphs">2003</text>
<text class="b" x="542.4" y="474.7" textLength="28.6" lengthAdjust="spacingAndGlyphs">2007</text>
<text class="b" x="583.5" y="474.7" textLength="28.6" lengthAdjust="spacingAndGlyphs">2011</text>
<text class="b" x="624.7" y="474.7" textLength="28.6" lengthAdjust="spacingAndGlyphs">2015</text>
<text class="b" x="665.9" y="474.7" textLength="28.6" lengthAdjust="spacingAndGlyphs">2019</text>
<text class="b" x="707.0" y="474.7" textLength="28.6" lengthAdjust="spacingAndGlyphs">2023</text>
<text class="b" x="5.8" y="12.6" textLength="189.6" lengthAdjust="spacingAndGlyphs">Wasserstand Tageswerte [cm]</text>
<text class="b" x="576" y="12.6" textLength="214.6" lengthAdjust="spacingAndGlyphs">Wasserstand Tageswerte [m NHN]</text>
<g shape-rendering="crispEdges"><rect x="60.5" y="493.5" width="10" height="10" fill="#2aa9ff" stroke="#0000ff" stroke-width="1.3"/><rect x="149.5" y="493.5" width="10" height="10" fill="#fff" stroke="#000080" stroke-width="1.3"/><rect x="234.5" y="493.5" width="10" height="10" fill="#fff" stroke="#ff0000" stroke-width="1.3"/></g>
<text class="b" x="74.8" y="502.7" textLength="62.1" lengthAdjust="spacingAndGlyphs">Mittelwert</text>
<text class="b" x="163.8" y="502.7" textLength="58.6" lengthAdjust="spacingAndGlyphs">Minimum</text>
<text class="b" x="248.3" y="502.7" textLength="61.6" lengthAdjust="spacingAndGlyphs">Maximum</text>
<g transform="translate(347,437.5) rotate(-5.4)" font-size="24px"><text x="1.6" y="1.8" fill="#808080">Rohdaten</text><text x="0" y="0" fill="#ffffff">Rohdaten</text></g>
</svg>
</body></html>
